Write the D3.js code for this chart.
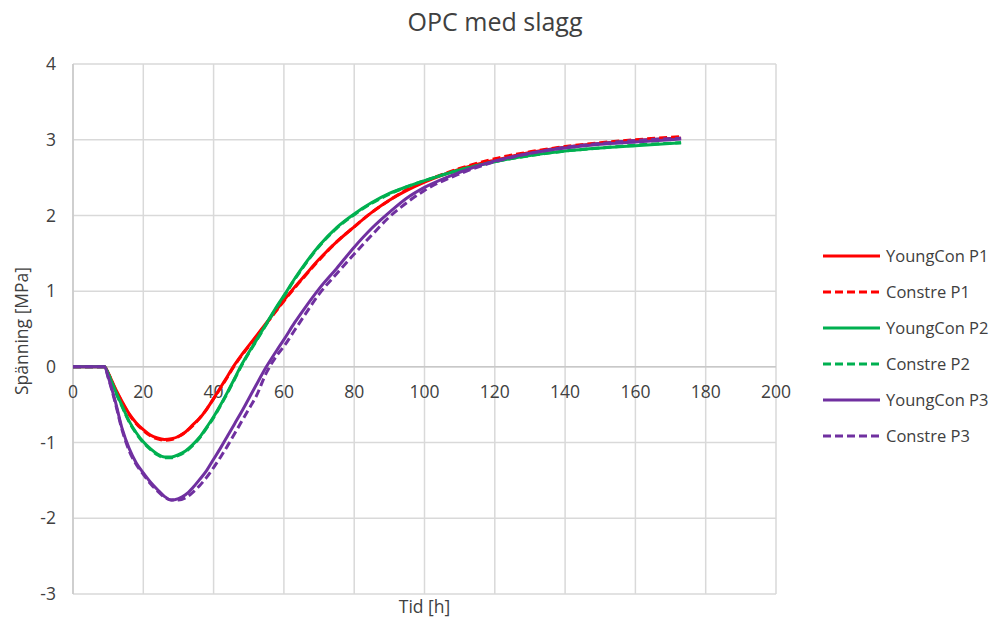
<!DOCTYPE html>
<html>
<head>
<meta charset="utf-8">
<script src="https://cdn.jsdelivr.net/npm/d3@7"></script>
<style>
  body { margin: 0; background: #fff; }
  text { font-family: "Open Sans", sans-serif; fill: #404040; }
</style>
</head>
<body>
<div id="line-chart"></div>
<script>
// tid [h]
var tid = [0, 9, 10, 12, 14, 16, 18, 20, 22, 24, 26, 28, 30, 32, 34, 36, 38, 40, 42, 44, 46, 48, 50, 52, 55, 58, 60, 63, 66, 70, 75, 80, 85, 90, 95, 100, 110, 120, 130, 140, 150, 160, 173];

// spänning [MPa]
var youngConP1 = [0, 0, -0.08, -0.28, -0.46, -0.62, -0.74, -0.83, -0.90, -0.94, -0.96, -0.95, -0.92, -0.86, -0.77, -0.68, -0.56, -0.42, -0.27, -0.12, 0.03, 0.16, 0.28, 0.40, 0.58, 0.76, 0.88, 1.05, 1.21, 1.42, 1.65, 1.85, 2.04, 2.20, 2.33, 2.44, 2.61, 2.73, 2.83, 2.90, 2.95, 2.99, 3.02];
var constreP1 = [0, 0, -0.08, -0.29, -0.47, -0.63, -0.75, -0.84, -0.91, -0.95, -0.97, -0.96, -0.92, -0.86, -0.78, -0.68, -0.56, -0.42, -0.28, -0.13, 0.02, 0.15, 0.27, 0.39, 0.57, 0.75, 0.87, 1.04, 1.20, 1.41, 1.65, 1.85, 2.04, 2.20, 2.34, 2.45, 2.62, 2.75, 2.84, 2.91, 2.96, 3.00, 3.04];
var youngConP2 = [0, 0, -0.09, -0.31, -0.52, -0.72, -0.87, -0.99, -1.08, -1.15, -1.19, -1.19, -1.16, -1.11, -1.03, -0.93, -0.80, -0.66, -0.50, -0.33, -0.15, 0.03, 0.19, 0.34, 0.57, 0.80, 0.94, 1.16, 1.36, 1.60, 1.84, 2.02, 2.17, 2.29, 2.38, 2.46, 2.60, 2.71, 2.79, 2.85, 2.89, 2.92, 2.96];
var constreP2 = [0, 0, -0.09, -0.32, -0.53, -0.73, -0.88, -1.00, -1.09, -1.16, -1.20, -1.20, -1.17, -1.12, -1.04, -0.94, -0.81, -0.67, -0.51, -0.34, -0.16, 0.02, 0.18, 0.33, 0.56, 0.79, 0.93, 1.15, 1.35, 1.59, 1.83, 2.01, 2.16, 2.28, 2.38, 2.46, 2.60, 2.71, 2.79, 2.85, 2.89, 2.93, 2.96];
var youngConP3 = [0, 0, -0.13, -0.45, -0.82, -1.08, -1.27, -1.40, -1.52, -1.62, -1.71, -1.76, -1.74, -1.69, -1.60, -1.49, -1.37, -1.22, -1.07, -0.91, -0.75, -0.59, -0.42, -0.25, 0.00, 0.22, 0.36, 0.58, 0.78, 1.03, 1.30, 1.58, 1.83, 2.04, 2.23, 2.37, 2.57, 2.72, 2.82, 2.89, 2.94, 2.97, 3.01];
var constreP3 = [0, 0, -0.14, -0.47, -0.84, -1.11, -1.29, -1.42, -1.54, -1.64, -1.72, -1.76, -1.76, -1.73, -1.66, -1.57, -1.46, -1.33, -1.19, -1.04, -0.88, -0.72, -0.56, -0.40, -0.08, 0.15, 0.27, 0.48, 0.69, 0.96, 1.23, 1.49, 1.74, 1.98, 2.17, 2.33, 2.55, 2.71, 2.82, 2.90, 2.95, 2.99, 3.02];

var seriesNames = ["YoungCon P1", "Constre P1", "YoungCon P2", "Constre P2", "YoungCon P3", "Constre P3"];
var seriesValues = [youngConP1, constreP1, youngConP2, constreP2, youngConP3, constreP3];
var seriesColors = ["#FF0000", "#FF0000", "#00B050", "#00B050", "#7030A0", "#7030A0"];
var seriesDashed = [false, true, false, true, false, true];

var xTicks = [0, 20, 40, 60, 80, 100, 120, 140, 160, 180, 200];
var yTicks = [-3, -2, -1, 0, 1, 2, 3, 4];

var margin = {top: 64, right: 216, bottom: 31, left: 73},
  width = 992 - margin.left - margin.right,
  height = 625 - margin.top - margin.bottom;

var svg = d3.select("#line-chart")
  .append("svg")
  .attr("width", 992)
  .attr("height", 625);

var graph = svg.append("g")
  .attr("transform", "translate(" + margin.left + "," + margin.top + ")");

var x = d3.scaleLinear().domain([0, 200]).range([0, width]);
var y = d3.scaleLinear().domain([-3, 4]).range([height, 0]);

// grid
graph.selectAll(".vgrid")
  .data(xTicks)
  .enter().append("line")
  .attr("x1", function(d) { return x(d); })
  .attr("x2", function(d) { return x(d); })
  .attr("y1", 0)
  .attr("y2", height)
  .attr("stroke", "#d9d9d9")
  .attr("stroke-width", 1.5);

graph.selectAll(".hgrid")
  .data(yTicks)
  .enter().append("line")
  .attr("x1", 0)
  .attr("x2", width)
  .attr("y1", function(d) { return y(d); })
  .attr("y2", function(d) { return y(d); })
  .attr("stroke", "#d9d9d9")
  .attr("stroke-width", 1.5);

// axis lines
graph.append("line")
  .attr("x1", 0).attr("x2", 0)
  .attr("y1", 0).attr("y2", height)
  .attr("stroke", "#c8c8c8")
  .attr("stroke-width", 1.5);
graph.append("line")
  .attr("x1", 0).attr("x2", width)
  .attr("y1", y(0)).attr("y2", y(0))
  .attr("stroke", "#c8c8c8")
  .attr("stroke-width", 1.5);

// tick labels
graph.selectAll(".xlab")
  .data(xTicks)
  .enter().append("text")
  .attr("x", function(d) { return x(d); })
  .attr("y", y(0) + 31)
  .attr("text-anchor", "middle")
  .style("font-size", "17.5px")
  .text(function(d) { return d; });

graph.selectAll(".ylab")
  .data(yTicks)
  .enter().append("text")
  .attr("x", -17)
  .attr("y", function(d) { return y(d); })
  .attr("dy", "0.35em")
  .attr("text-anchor", "end")
  .style("font-size", "17.5px")
  .text(function(d) { return d; });

// lines
var line = d3.line()
  .x(function(d, i) { return x(tid[i]); })
  .y(function(d) { return y(d); })
  .curve(d3.curveMonotoneX);

seriesValues.forEach(function(vals, i) {
  graph.append("path")
    .datum(vals)
    .attr("fill", "none")
    .attr("stroke", seriesColors[i])
    .attr("stroke-width", 3)
    .attr("stroke-dasharray", seriesDashed[i] ? "8,4" : null)
    .attr("stroke-linejoin", "round")
    .attr("d", line);
});

// titles
svg.append("text")
  .attr("x", 495)
  .attr("y", 31)
  .attr("text-anchor", "middle")
  .style("font-size", "25px")
  .text("OPC med slagg");

svg.append("text")
  .attr("x", margin.left + width / 2)
  .attr("y", 613)
  .attr("text-anchor", "middle")
  .style("font-size", "17.5px")
  .text("Tid [h]");

svg.append("text")
  .attr("transform", "translate(28,331) rotate(-90)")
  .attr("text-anchor", "middle")
  .style("font-size", "17.5px")
  .text("Spänning [MPa]");

// legend
var legend = svg.selectAll(".legend")
  .data(seriesNames)
  .enter().append("g")
  .attr("transform", function(d, i) { return "translate(823," + (256 + i * 36) + ")"; });

legend.append("line")
  .attr("x1", 0).attr("x2", 57)
  .attr("y1", 0).attr("y2", 0)
  .attr("stroke", function(d, i) { return seriesColors[i]; })
  .attr("stroke-width", 3)
  .attr("stroke-dasharray", function(d, i) { return seriesDashed[i] ? "8,4" : null; });

legend.append("text")
  .attr("x", 63)
  .attr("y", 0)
  .attr("dy", "0.35em")
  .style("font-size", "16.5px")
  .text(function(d) { return d; });
</script>
</body>
</html>
